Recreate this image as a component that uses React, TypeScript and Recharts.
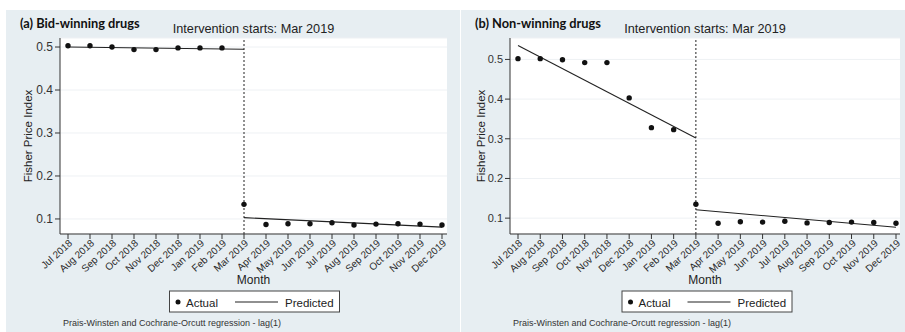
import React from 'react';
import { ComposedChart, Line, XAxis, YAxis, CartesianGrid, ReferenceLine } from 'recharts';

const months = [
  'Jul 2018', 'Aug 2018', 'Sep 2018', 'Oct 2018', 'Nov 2018', 'Dec 2018',
  'Jan 2019', 'Feb 2019', 'Mar 2019', 'Apr 2019', 'May 2019', 'Jun 2019',
  'Jul 2019', 'Aug 2019', 'Sep 2019', 'Oct 2019', 'Nov 2019', 'Dec 2019',
];
const yTicks = [0.1, 0.2, 0.3, 0.4, 0.5];
const interventionMonth = 'Mar 2019';

// (a) Bid-winning drugs
const actualA = [0.503, 0.503, 0.5, 0.494, 0.494, 0.498, 0.498, 0.498, 0.134, 0.087, 0.089, 0.089, 0.091, 0.086, 0.088, 0.089, 0.088, 0.086];
const predPreA = [0.5, null, null, null, null, null, null, null, 0.495, null, null, null, null, null, null, null, null, null];
const predPostA = [null, null, null, null, null, null, null, null, 0.103, null, null, null, null, null, null, null, null, 0.081];

// (b) Non-winning drugs
const actualB = [0.502, 0.502, 0.499, 0.492, 0.492, 0.403, 0.328, 0.323, 0.135, 0.087, 0.091, 0.09, 0.092, 0.088, 0.089, 0.09, 0.089, 0.087];
const predPreB = [0.535, null, null, null, null, null, null, null, 0.302, null, null, null, null, null, null, null, null, null];
const predPostB = [null, null, null, null, null, null, null, null, 0.121, null, null, null, null, null, null, null, null, 0.077];

const FONT = '"Liberation Sans", Arial, sans-serif';
const BG = '#e7eef2';

const buildRows = (actual: number[], pre: (number | null)[], post: (number | null)[]) =>
  months.map((m, i) => ({ month: m, actual: actual[i], pre: pre[i], post: post[i] }));

const rowsA = buildRows(actualA, predPreA, predPostA);
const rowsB = buildRows(actualB, predPreB, predPostB);

function XTick({ x, y, payload }: any) {
  const ax = x + 5;
  const ay = y + 3;
  return (
    <text x={ax} y={ay} transform={`rotate(-42 ${ax} ${ay})`} textAnchor="end" fontSize={10} fill="#2a2a2a" fontFamily={FONT}>
      {payload.value}
    </text>
  );
}

type PanelProps = {
  data: any[];
  left: number;
  width: number;
  yAxisWidth: number;
  marginRight: number;
  padRight: number;
  domain: [number, number];
  tickFont: number;
};

function Panel({ data, left, width, yAxisWidth, marginRight, padRight, domain, tickFont }: PanelProps) {
  return (
    <div style={{ position: 'absolute', left, top: 0 }}>
      <ComposedChart width={width} height={332} data={data} margin={{ top: 38, right: marginRight, bottom: 0, left: 0 }}>
        <CartesianGrid vertical={false} stroke="#eef1f4" fill="#ffffff" />
        <XAxis
          dataKey="month"
          scale="point"
          padding={{ left: 8, right: padRight }}
          height={98}
          interval={0}
          tick={<XTick />}
          tickSize={5}
          axisLine={{ stroke: '#333' }}
          tickLine={{ stroke: '#333' }}
        />
        <YAxis
          type="number"
          domain={domain}
          allowDataOverflow
          ticks={yTicks}
          width={yAxisWidth}
          tickSize={5}
          tickFormatter={(v: number) => v.toFixed(1)}
          tick={{ fontSize: tickFont, fill: '#333', fontFamily: FONT }}
          axisLine={{ stroke: '#333' }}
          tickLine={{ stroke: '#333' }}
        />
        <ReferenceLine x={interventionMonth} stroke="#222" strokeDasharray="2 2" />
        <Line dataKey="pre" stroke="#222" strokeWidth={1.1} dot={false} activeDot={false} connectNulls isAnimationActive={false} />
        <Line dataKey="post" stroke="#222" strokeWidth={1.1} dot={false} activeDot={false} connectNulls isAnimationActive={false} />
        <Line dataKey="actual" stroke="none" dot={{ r: 2.7, fill: '#111', stroke: 'none' }} activeDot={false} isAnimationActive={false} />
      </ComposedChart>
    </div>
  );
}

function Legend({ x }: { x: number }) {
  return (
    <g>
      <rect x={x + 0.5} y={291} width={170} height={21} fill="#fff" stroke="#444" />
      <circle cx={x + 9} cy={302} r={2.5} fill="#111" />
      <text x={x + 17} y={306.5} fontSize={11.5} fontFamily={FONT} fill="#222">Actual</text>
      <line x1={x + 66} x2={x + 109} y1={302} y2={302} stroke="#222" strokeWidth={1.1} />
      <text x={x + 116} y={306.5} fontSize={11.5} fontFamily={FONT} fill="#222">Predicted</text>
    </g>
  );
}

function Labels({ title, titleX, center, yLabelX, legendX, noteX }: any) {
  return (
    <g fontFamily={FONT} fill="#222">
      <text x={titleX} y={27.5} fontSize={12.8} fontWeight={700} fontFamily="Lato, sans-serif" fill="#111">{title}</text>
      <text x={center} y={33} fontSize={12.7} textAnchor="middle">Intervention starts: Mar 2019</text>
      <text x={yLabelX} y={136} fontSize={11.5} textAnchor="middle" transform={`rotate(-90 ${yLabelX} 136)`}>Fisher Price Index</text>
      <text x={center} y={284} fontSize={12} textAnchor="middle">Month</text>
      <Legend x={legendX} />
      <text x={noteX} y={326} fontSize={9} fill="#333">Prais-Winsten and Cochrane-Orcutt regression - lag(1)</text>
    </g>
  );
}

export default function App() {
  return (
    <div style={{ position: 'fixed', left: 0, top: 0, width: 905, height: 332, background: '#fff', overflow: 'hidden' }}>
      <div style={{ position: 'absolute', left: 6, top: 10, width: 454, height: 322, background: BG }} />
      <div style={{ position: 'absolute', left: 461, top: 10, width: 444, height: 322, background: BG }} />
      <Panel data={rowsA} left={0} width={455} yAxisWidth={60} marginRight={8} padRight={5} domain={[0.065, 0.521]} tickFont={12} />
      <Panel data={rowsB} left={455} width={450} yAxisWidth={55} marginRight={5} padRight={4} domain={[0.06, 0.554]} tickFont={11} />
      <svg width={905} height={332} style={{ position: 'absolute', left: 0, top: 0, pointerEvents: 'none' }}>
        <Labels title="(a) Bid-winning drugs" titleX={20} center={253.5} yLabelX={32} legendX={169} noteX={63} />
        <Labels title="(b) Non-winning drugs" titleX={475} center={705} yLabelX={485} legendX={621.5} noteX={513} />
      </svg>
    </div>
  );
}
